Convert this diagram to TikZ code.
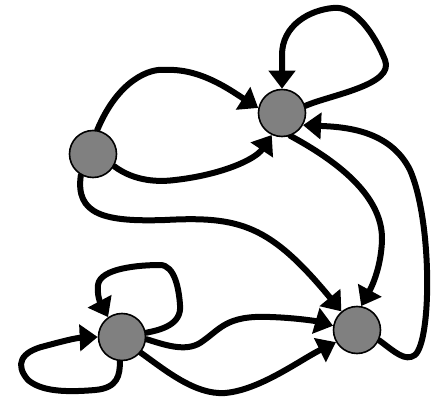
\documentclass[tikz,border=0pt]{standalone}
\usetikzlibrary{arrows.meta,backgrounds}
\begin{document}
\begin{tikzpicture}[x=1pt,y=-1pt,
  vtx/.style={circle,draw=black,line width=1.6pt,fill=gray,minimum size=47pt,inner sep=0pt},
  edge/.style={line width=6pt,line cap=round,line join=round,-{Triangle[length=18pt,width=26pt]}}]
\useasboundingbox (0,0) rectangle (431,398);
\node[vtx] (A) at (93,154) {};
\node[vtx] (B) at (282,113) {};
\node[vtx] (C) at (122,337) {};
\node[vtx] (D) at (357,330) {};
\begin{scope}[on background layer]
% A -> B (upper)
\draw[edge] (A.80) .. controls (118,80) and (150,68) .. (165,70) .. controls (200,68) and (230,90) .. (B.168);
% A -> B (lower)
\draw[edge] (A.-30) .. controls (135,182) and (160,182) .. (175,180) .. controls (220,175) and (255,160) .. (B.-115);
% A -> D
\draw[edge] (A.-120) .. controls (75,215) and (105,222) .. (165,220) .. controls (240,216) and (270,225) .. (D.130);
% B -> D
\draw[edge] (B.-70) .. controls (335,160) and (383,195) .. (382,240) .. controls (381,270) and (370,290) .. (D.80);
% D -> B
\draw[edge] (D.-25) .. controls (395,352) and (405,362) .. (415,355) .. controls (432,340) and (432,220) .. (410,170) .. controls (390,130) and (345,127) .. (B.-30);
% B loop
\draw[edge] (B.17) .. controls (330,95) and (395,85) .. (385,60) .. controls (375,35) and (355,5) .. (333,8) .. controls (310,10) and (282,25) .. (282,55) -- (B.90);
% C top loop
\draw[edge] (C.10) .. controls (160,330) and (182,325) .. (180,305) .. controls (179,290) and (175,265) .. (160,265) .. controls (140,265) and (100,268) .. (98,285) .. controls (97,295) and (100,302) .. (C.125);
% C left loop
\draw[edge] (C.-95) .. controls (120,375) and (118,388) .. (95,390) .. controls (60,393) and (40,390) .. (28,380) .. controls (15,365) and (20,352) .. (45,346) .. controls (60,342) and (75,338) .. (C.180);
% C -> D (upper)
\draw[edge] (C.-5) .. controls (165,345) and (185,352) .. (200,343) .. controls (220,330) and (225,315) .. (270,317) .. controls (300,318) and (320,322) .. (D.170);
% C -> D (lower)
\draw[edge] (C.-40) .. controls (165,370) and (195,395) .. (225,393) .. controls (260,390) and (300,360) .. (D.-150);
\end{scope}
\end{tikzpicture}
\end{document}
